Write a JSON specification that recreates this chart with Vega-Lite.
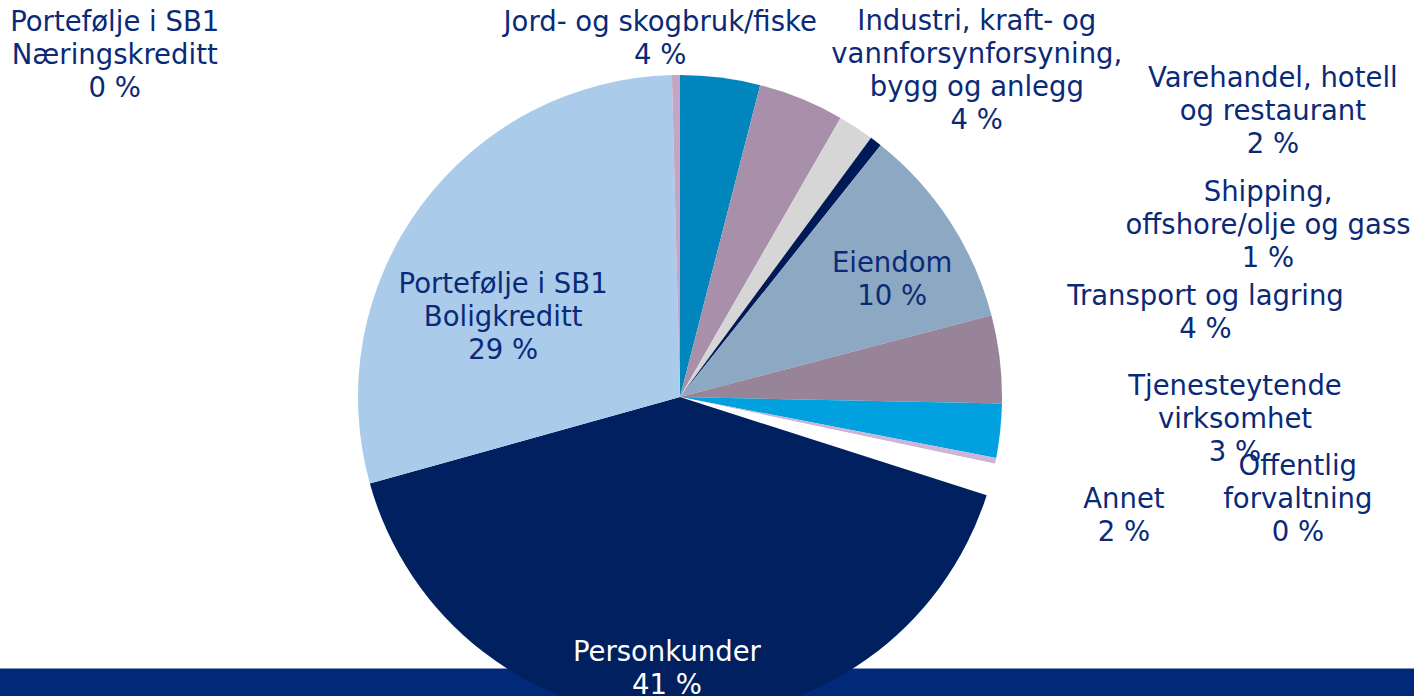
{
  "$schema": "https://vega.github.io/schema/vega-lite/v6.json",
  "width": 1468,
  "height": 794,
  "padding": {"left": -54, "top": 0, "right": 0, "bottom": -98},
  "autosize": {"type": "none"},
  "background": "white",
  "config": {"view": {"stroke": null}, "text": {"font": "DejaVu Sans", "fontSize": 27.5, "lineHeight": 33, "lineBreak": "\n", "color": "#0A2A78"}},
  "data": {
    "values": [
      {"idx": 1, "cat": "Jord", "value": 4.0, "label": "Jord- og skogbruk/fiske\n4 %"},
      {"idx": 2, "cat": "Industri", "value": 4.3, "label": "Industri, kraft- og\nvannforsynforsyning,\nbygg og anlegg\n4 %"},
      {"idx": 3, "cat": "Varehandel", "value": 1.8, "label": "Varehandel, hotell\nog restaurant\n2 %"},
      {"idx": 4, "cat": "Shipping", "value": 0.6, "label": "Shipping,\noffshore/olje og gass\n1 %"},
      {"idx": 5, "cat": "Eiendom", "value": 10.2, "label": "Eiendom\n10 %"},
      {"idx": 6, "cat": "Transport", "value": 4.4, "label": "Transport og lagring\n4 %"},
      {"idx": 7, "cat": "Tjenesteytende", "value": 2.7, "label": "Tjenesteytende\nvirksomhet\n3 %"},
      {"idx": 8, "cat": "Offentlig", "value": 0.3, "label": "Offentlig\nforvaltning\n0 %"},
      {"idx": 9, "cat": "Annet", "value": 1.6, "label": "Annet\n2 %"},
      {"idx": 10, "cat": "Personkunder", "value": 40.7, "label": "Personkunder\n41 %"},
      {"idx": 11, "cat": "Boligkreditt", "value": 28.9, "label": "Portefølje i SB1\nBoligkreditt\n29 %"},
      {"idx": 12, "cat": "Næringskreditt", "value": 0.4, "label": "Portefølje i SB1\nNæringskreditt\n0 %"}
    ]
  },
  "layer": [
    {
      "mark": {"type": "point", "opacity": 0},
      "encoding": {
        "x": {
          "field": "value", "type": "quantitative",
          "axis": {"domain": true, "domainColor": "#00297A", "domainWidth": 28, "domainCap": "butt",
                   "ticks": false, "labels": false, "grid": false, "title": null, "offset": -112, "zindex": 0}
        }
      }
    },
    {
      "mark": {"type": "arc", "outerRadius": 322},
      "encoding": {
        "theta": {"field": "value", "type": "quantitative", "stack": true},
        "order": {"field": "idx", "type": "quantitative"},
        "color": {
          "field": "cat", "type": "nominal", "legend": null,
          "scale": {
            "domain": ["Jord", "Industri", "Varehandel", "Shipping", "Eiendom", "Transport", "Tjenesteytende", "Offentlig", "Annet", "Personkunder", "Boligkreditt", "Næringskreditt"],
            "range": ["#0085BC", "#A890AA", "#D6D6D6", "#001A57", "#8CA8C2", "#978499", "#00A1DE", "#CDB5D8", "#FFFFFF", "#00205F", "#AACCEA", "#C5A5C6"]
          }
        }
      }
    },
    {
      "mark": {"type": "text", "radius": 360, "dx": -65, "dy": -17},
      "encoding": {
        "theta": {"field": "value", "type": "quantitative", "stack": true},
        "order": {"field": "idx", "type": "quantitative"},
        "text": {"field": "label", "type": "nominal", "condition": {"test": "datum.cat !== 'Jord'", "value": ""}}
      }
    },
    {
      "mark": {"type": "text", "radius": 360, "dx": 161, "dy": -42},
      "encoding": {
        "theta": {"field": "value", "type": "quantitative", "stack": true},
        "order": {"field": "idx", "type": "quantitative"},
        "text": {"field": "label", "type": "nominal", "condition": {"test": "datum.cat !== 'Industri'", "value": ""}}
      }
    },
    {
      "mark": {"type": "text", "radius": 360, "dx": 396, "dy": -17},
      "encoding": {
        "theta": {"field": "value", "type": "quantitative", "stack": true},
        "order": {"field": "idx", "type": "quantitative"},
        "text": {"field": "label", "type": "nominal", "condition": {"test": "datum.cat !== 'Varehandel'", "value": ""}}
      }
    },
    {
      "mark": {"type": "text", "radius": 360, "dx": 369, "dy": 82},
      "encoding": {
        "theta": {"field": "value", "type": "quantitative", "stack": true},
        "order": {"field": "idx", "type": "quantitative"},
        "text": {"field": "label", "type": "nominal", "condition": {"test": "datum.cat !== 'Shipping'", "value": ""}}
      }
    },
    {
      "mark": {"type": "text", "radius": 240, "dx": 11, "dy": -2},
      "encoding": {
        "theta": {"field": "value", "type": "quantitative", "stack": true},
        "order": {"field": "idx", "type": "quantitative"},
        "text": {"field": "label", "type": "nominal", "condition": {"test": "datum.cat !== 'Eiendom'", "value": ""}}
      }
    },
    {
      "mark": {"type": "text", "radius": 360, "dx": 168, "dy": -58},
      "encoding": {
        "theta": {"field": "value", "type": "quantitative", "stack": true},
        "order": {"field": "idx", "type": "quantitative"},
        "text": {"field": "label", "type": "nominal", "condition": {"test": "datum.cat !== 'Transport'", "value": ""}}
      }
    },
    {
      "mark": {"type": "text", "radius": 360, "dx": 197, "dy": -48},
      "encoding": {
        "theta": {"field": "value", "type": "quantitative", "stack": true},
        "order": {"field": "idx", "type": "quantitative"},
        "text": {"field": "label", "type": "nominal", "condition": {"test": "datum.cat !== 'Tjenesteytende'", "value": ""}}
      }
    },
    {
      "mark": {"type": "text", "radius": 360, "dx": 265, "dy": -1},
      "encoding": {
        "theta": {"field": "value", "type": "quantitative", "stack": true},
        "order": {"field": "idx", "type": "quantitative"},
        "text": {"field": "label", "type": "nominal", "condition": {"test": "datum.cat !== 'Offentlig'", "value": ""}}
      }
    },
    {
      "mark": {"type": "text", "radius": 360, "dx": 96, "dy": 11},
      "encoding": {
        "theta": {"field": "value", "type": "quantitative", "stack": true},
        "order": {"field": "idx", "type": "quantitative"},
        "text": {"field": "label", "type": "nominal", "condition": {"test": "datum.cat !== 'Annet'", "value": ""}}
      }
    },
    {
      "mark": {"type": "text", "radius": 270, "dx": -8, "dy": -14, "color": "#FFFFFF"},
      "encoding": {
        "theta": {"field": "value", "type": "quantitative", "stack": true},
        "order": {"field": "idx", "type": "quantitative"},
        "text": {"field": "label", "type": "nominal", "condition": {"test": "datum.cat !== 'Personkunder'", "value": ""}}
      }
    },
    {
      "mark": {"type": "text", "radius": 220, "dx": 0, "dy": 19},
      "encoding": {
        "theta": {"field": "value", "type": "quantitative", "stack": true},
        "order": {"field": "idx", "type": "quantitative"},
        "text": {"field": "label", "type": "nominal", "condition": {"test": "datum.cat !== 'Boligkreditt'", "value": ""}}
      }
    },
    {
      "mark": {"type": "text", "radius": 340, "dx": -561, "dy": -34},
      "encoding": {
        "theta": {"field": "value", "type": "quantitative", "stack": true},
        "order": {"field": "idx", "type": "quantitative"},
        "text": {"field": "label", "type": "nominal", "condition": {"test": "datum.cat !== 'Næringskreditt'", "value": ""}}
      }
    }
  ]
}
